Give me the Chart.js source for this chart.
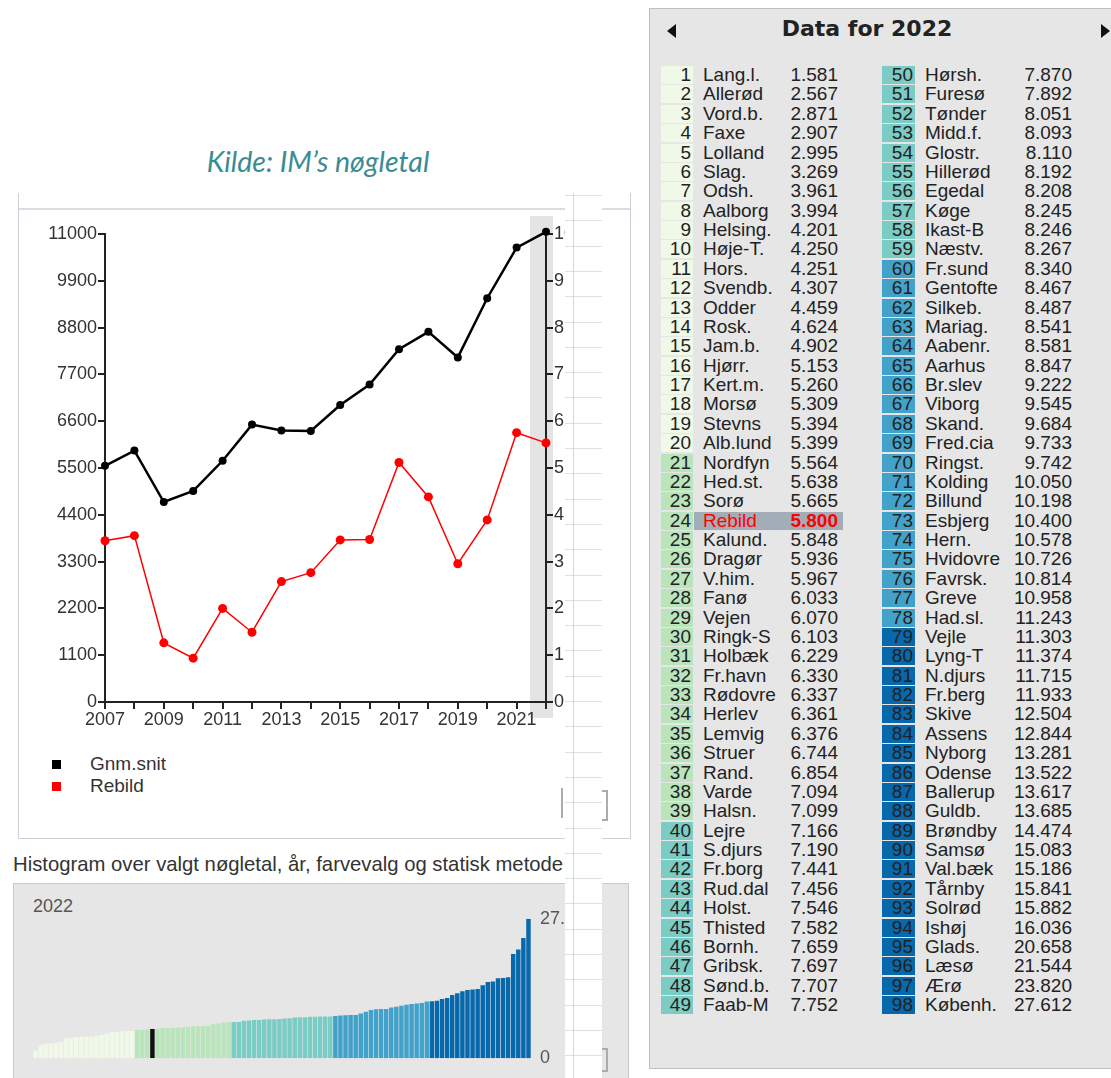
<!DOCTYPE html>
<html lang="da">
<head>
<meta charset="UTF-8">
<title>Nøgletal - Rebild</title>
<style>
    body {
        margin: 0;
        width: 1111px;
        height: 1078px;
        position: relative;
        overflow: hidden;
        background: #fff;
        font-family: Arial, "Liberation Sans", sans-serif;
        color: #333;
    }
    .abs { position: absolute; }

    #kilde {
        left: 0; width: 636px; top: 144px;
        text-align: center;
        font-family: Lato, sans-serif;
        font-style: italic;
        font-size: 28.5px;
        color: #3b8b92;
    }

    #linePanel {
        left: 18px; top: 193px; width: 611px; height: 645px;
        border-left: 1px solid #c9d0d8;
        border-right: 1px solid #c9d0d8;
        border-bottom: 1px solid #c9d0d8;
    }
    #linePanel .topline {
        position: absolute; left: 0; right: 0; top: 15px;
        border-top: 2px solid #d9dde2;
    }
    #lineCanvas { left: 18px; top: 209px; }

    .legend-item { font-size: 19px; color: #333; }
    .legend-box { position: absolute; width: 9px; height: 9px; }

    #histTitle { left: 13px; top: 853px; font-size: 20.3px; color: #333; white-space: nowrap; }
    #histPanel {
        left: 13px; top: 883px; width: 614px; height: 210px;
        background: #e6e6e6;
        border: 1px solid #c3cad2;
    }
    #histYear { left: 33px; top: 896px; font-size: 18px; color: #555; }
    #histCanvas { left: 33px; top: 907px; }

    #dataPanel {
        left: 649px; top: 8px; width: 480px; height: 1059px;
        background: #e6e6e6;
        border: 1px solid #b8c0c8;
    }
    #dataTitle {
        left: 649px; width: 436px; top: 16px;
        text-align: center;
        font-family: "DejaVu Sans", Verdana, sans-serif;
        font-weight: bold;
        font-size: 22px;
        color: #222;
    }
    .arrow-l {
        left: 667px; top: 24px; width: 0; height: 0;
        border-top: 7px solid transparent;
        border-bottom: 7px solid transparent;
        border-right: 9px solid #111;
    }
    .arrow-r {
        left: 1101px; top: 24px; width: 0; height: 0;
        border-top: 7px solid transparent;
        border-bottom: 7px solid transparent;
        border-left: 9px solid #111;
    }
    .cell { font-size: 19px; line-height: 18px; height: 18px; color: #222; white-space: nowrap; }
    .rank { text-align: right; padding-right: 2px; box-sizing: border-box; }
    .val { text-align: right; }

    #strip {
        left: 565px; top: 193px; width: 37px; height: 885px;
        background-color: #fff;
        background-image: repeating-linear-gradient(to bottom, #dde1e5 0px, #dde1e5 1px, transparent 1px, transparent 25.3px);
        background-position: 0 2px;
    }
    #stripLine { left: 573px; top: 193px; width: 1px; height: 885px; background: #d3d8de; }
    .bracket { border: 2px solid #a9adb2; }
</style>
</head>
<body>
<div id="kilde" class="abs">Kilde: IM’s nøgletal</div>

<div id="linePanel" class="abs"><div class="topline"></div></div>
<canvas id="lineCanvas" class="abs" width="612" height="530"></canvas>
<div id="legend"></div>

<div id="histTitle" class="abs">Histogram over valgt nøgletal, år, farvevalg og statisk metode</div>
<div id="histPanel" class="abs"></div>
<div id="histYear" class="abs">2022</div>
<canvas id="histCanvas" class="abs" width="580" height="163"></canvas>

<div id="dataPanel" class="abs"></div>
<div id="dataTitle" class="abs">Data for 2022</div>
<div class="abs arrow-l"></div>
<div class="abs arrow-r"></div>
<div id="table"></div>

<div class="abs bracket" style="left:561px; top:788px; width:0; height:30px; border-left-width:2px; border-right:none; border-top:none; border-bottom:none;"></div>
<div class="abs bracket" style="left:600px; top:790px; width:6px; height:27px; border-left:none;"></div>
<div class="abs bracket" style="left:600px; top:1048px; width:6px; height:20px; border-left:none;"></div>
<div id="strip" class="abs"></div>
<div id="stripLine" class="abs"></div>

<script src="https://cdn.jsdelivr.net/npm/chart.js"></script>
<script>
    // Udvikling: gennemsnit og Rebild
    const years = ['2007', '2008', '2009', '2010', '2011', '2012', '2013', '2014',
                   '2015', '2016', '2017', '2018', '2019', '2020', '2021', '2022'];
    const gnmSnit = [5550, 5910, 4700, 4960, 5670, 6520, 6380, 6370,
                     6980, 7460, 8290, 8700, 8100, 9490, 10680, 11050];
    const rebild = [3790, 3910, 1390, 1030, 2200, 1640, 2830, 3040,
                    3810, 3820, 5630, 4820, 3250, 4280, 6330, 6090];
    const seriesLabels = ['Gnm.snit', 'Rebild'];
    const seriesColors = ['#000000', '#ff0000'];

    // Data for 2022, sorteret
    const kommuner = ['Lang.l.', 'Allerød', 'Vord.b.', 'Faxe', 'Lolland', 'Slag.', 'Odsh.', 'Aalborg',
        'Helsing.', 'Høje-T.', 'Hors.', 'Svendb.', 'Odder', 'Rosk.', 'Jam.b.', 'Hjørr.', 'Kert.m.',
        'Morsø', 'Stevns', 'Alb.lund', 'Nordfyn', 'Hed.st.', 'Sorø', 'Rebild', 'Kalund.', 'Dragør',
        'V.him.', 'Fanø', 'Vejen', 'Ringk-S', 'Holbæk', 'Fr.havn', 'Rødovre', 'Herlev', 'Lemvig',
        'Struer', 'Rand.', 'Varde', 'Halsn.', 'Lejre', 'S.djurs', 'Fr.borg', 'Rud.dal', 'Holst.',
        'Thisted', 'Bornh.', 'Gribsk.', 'Sønd.b.', 'Faab-M',
        'Hørsh.', 'Furesø', 'Tønder', 'Midd.f.', 'Glostr.', 'Hillerød', 'Egedal', 'Køge', 'Ikast-B',
        'Næstv.', 'Fr.sund', 'Gentofte', 'Silkeb.', 'Mariag.', 'Aabenr.', 'Aarhus', 'Br.slev',
        'Viborg', 'Skand.', 'Fred.cia', 'Ringst.', 'Kolding', 'Billund', 'Esbjerg', 'Hern.',
        'Hvidovre', 'Favrsk.', 'Greve', 'Had.sl.', 'Vejle', 'Lyng-T', 'N.djurs', 'Fr.berg', 'Skive',
        'Assens', 'Nyborg', 'Odense', 'Ballerup', 'Guldb.', 'Brøndby', 'Samsø', 'Val.bæk', 'Tårnby',
        'Solrød', 'Ishøj', 'Glads.', 'Læsø', 'Ærø', 'Københ.'];
    const vaerdier = [1.581, 2.567, 2.871, 2.907, 2.995, 3.269, 3.961, 3.994, 4.201, 4.250,
        4.251, 4.307, 4.459, 4.624, 4.902, 5.153, 5.260, 5.309, 5.394, 5.399,
        5.564, 5.638, 5.665, 5.800, 5.848, 5.936, 5.967, 6.033, 6.070, 6.103,
        6.229, 6.330, 6.337, 6.361, 6.376, 6.744, 6.854, 7.094, 7.099, 7.166,
        7.190, 7.441, 7.456, 7.546, 7.582, 7.659, 7.697, 7.707, 7.752, 7.870,
        7.892, 8.051, 8.093, 8.110, 8.192, 8.208, 8.245, 8.246, 8.267, 8.340,
        8.467, 8.487, 8.541, 8.581, 8.847, 9.222, 9.545, 9.684, 9.733, 9.742,
        10.050, 10.198, 10.400, 10.578, 10.726, 10.814, 10.958, 11.243, 11.303, 11.374,
        11.715, 11.933, 12.504, 12.844, 13.281, 13.522, 13.617, 13.685, 14.474, 15.083,
        15.186, 15.841, 15.882, 16.036, 20.658, 21.544, 23.820, 27.612];
    // øverste rang i hver farveklasse
    const klasseGraenser = [20, 39, 59, 78, 98];
    const klasseFarver = ['#f0f9e8', '#bae4bc', '#7bccc4', '#43a2ca', '#0868ac'];
    const valgt = 'Rebild';

    function klasseFarve(rank) {
        for (let k = 0; k < klasseGraenser.length; k++) {
            if (rank <= klasseGraenser[k]) return klasseFarver[k];
        }
        return klasseFarver[klasseFarver.length - 1];
    }

    // grå markering af valgt år
    const yearBand = {
        id: 'yearBand',
        beforeDraw(chart) {
            const x = chart.scales.x.getPixelForValue(years.length - 1);
            const area = chart.chartArea;
            const ctx = chart.ctx;
            ctx.save();
            ctx.fillStyle = '#e4e4e4';
            ctx.fillRect(x - 16, area.top - 18, 23, area.bottom - area.top + 34);
            ctx.restore();
        }
    };

    const axisFont = { family: 'Arial', size: 18 };

    new Chart(document.getElementById('lineCanvas').getContext('2d'), {
        type: 'line',
        data: {
            labels: years,
            datasets: [
                {
                    label: seriesLabels[0],
                    data: gnmSnit,
                    borderColor: seriesColors[0],
                    backgroundColor: seriesColors[0],
                    borderWidth: 2.5,
                    pointRadius: 4,
                    pointBorderWidth: 0,
                    clip: false,
                    yAxisID: 'y'
                },
                {
                    label: seriesLabels[1],
                    data: rebild,
                    borderColor: seriesColors[1],
                    backgroundColor: seriesColors[1],
                    borderWidth: 1.5,
                    pointRadius: 4.5,
                    pointBorderWidth: 0,
                    clip: false,
                    yAxisID: 'y'
                }
            ]
        },
        options: {
            responsive: false,
            animation: false,
            layout: { padding: { top: 25, left: 0, right: 0, bottom: 0 } },
            plugins: { legend: { display: false }, tooltip: { enabled: false } },
            scales: {
                x: {
                    offset: false,
                    grid: { drawOnChartArea: false, tickLength: 7, tickColor: '#222', lineWidth: 2 },
                    border: { color: '#222', width: 2 },
                    ticks: {
                        autoSkip: false, maxRotation: 0, color: '#333', font: axisFont, padding: 0,
                        callback: (v, i) => (i % 2 === 0 ? years[i] : '')
                    },
                    afterFit: s => { s.height = 37; }
                },
                y: {
                    position: 'left',
                    min: 0, max: 11000,
                    ticks: { stepSize: 1100, color: '#333', font: axisFont, padding: 1, callback: v => String(v) },
                    grid: { drawOnChartArea: false, tickLength: 7, tickColor: '#222', lineWidth: 2 },
                    border: { color: '#222', width: 2 },
                    afterFit: s => { s.width = 87; }
                },
                y1: {
                    position: 'right',
                    min: 0, max: 10,
                    ticks: { stepSize: 1, color: '#333', font: axisFont, padding: 1 },
                    grid: { drawOnChartArea: false, tickLength: 7, tickColor: '#222', lineWidth: 2 },
                    border: { color: '#222', width: 2 },
                    afterFit: s => { s.width = 84; }
                }
            }
        },
        plugins: [yearBand]
    });

    // forklaring
    const legend = document.getElementById('legend');
    seriesLabels.forEach((lab, i) => {
        const top = 758 + i * 22;
        const box = document.createElement('div');
        box.className = 'legend-box';
        box.style.left = '52px';
        box.style.top = (top + 2) + 'px';
        box.style.background = seriesColors[i];
        legend.appendChild(box);
        const t = document.createElement('div');
        t.className = 'abs legend-item';
        t.style.left = '90px';
        t.style.top = (top - 5) + 'px';
        t.textContent = lab;
        legend.appendChild(t);
    });

    // histogram
    const histFarver = kommuner.map((n, i) => (n === valgt ? '#111111' : klasseFarve(i + 1)));
    const maxVaerdi = Math.max(...vaerdier);

    new Chart(document.getElementById('histCanvas').getContext('2d'), {
        type: 'bar',
        data: {
            labels: kommuner,
            datasets: [{
                data: vaerdier,
                backgroundColor: histFarver,
                barPercentage: 0.88,
                categoryPercentage: 1.0
            }]
        },
        options: {
            responsive: false,
            animation: false,
            layout: { padding: 0 },
            plugins: { legend: { display: false }, tooltip: { enabled: false } },
            scales: {
                x: { display: false },
                y: {
                    position: 'right',
                    min: 0, max: maxVaerdi,
                    grid: { display: false },
                    border: { display: false },
                    afterBuildTicks: s => { s.ticks = [{ value: 0 }, { value: maxVaerdi }]; },
                    ticks: {
                        color: '#555', font: axisFont, padding: 1,
                        callback: v => (v === 0 ? '0' : maxVaerdi.toFixed(3))
                    },
                    afterFit: s => { s.width = 82; }
                }
            }
        }
    });

    // tabel
    const table = document.getElementById('table');
    const rowsPerCol = 49;
    kommuner.forEach((navn, i) => {
        const col = i < rowsPerCol ? 0 : 1;
        const row = i % rowsPerCol;
        const top = 66 + row * 19.375;
        const rankLeft = col === 0 ? 661 : 882;
        const nameLeft = col === 0 ? 703 : 925;
        const valRight = col === 0 ? 838 : 1072;
        const erValgt = navn === valgt;

        const r = document.createElement('div');
        r.className = 'abs cell rank';
        r.style.left = rankLeft + 'px';
        r.style.top = top + 'px';
        r.style.width = (col === 0 ? 32 : 33) + 'px';
        r.style.background = klasseFarve(i + 1);
        r.textContent = i + 1;
        table.appendChild(r);

        if (erValgt) {
            const hl = document.createElement('div');
            hl.className = 'abs';
            hl.style.left = (nameLeft - 9) + 'px';
            hl.style.top = top + 'px';
            hl.style.width = (valRight + 5 - nameLeft + 9) + 'px';
            hl.style.height = '18px';
            hl.style.background = '#a3adb8';
            table.appendChild(hl);
        }

        const n = document.createElement('div');
        n.className = 'abs cell';
        n.style.left = nameLeft + 'px';
        n.style.top = top + 'px';
        n.textContent = navn;
        if (erValgt) n.style.color = '#ff0000';
        table.appendChild(n);

        const v = document.createElement('div');
        v.className = 'abs cell val';
        v.style.left = (valRight - 90) + 'px';
        v.style.width = '90px';
        v.style.top = top + 'px';
        v.textContent = vaerdier[i].toFixed(3);
        if (erValgt) { v.style.color = '#ff0000'; v.style.fontWeight = 'bold'; }
        table.appendChild(v);
    });
</script>
</body>
</html>
